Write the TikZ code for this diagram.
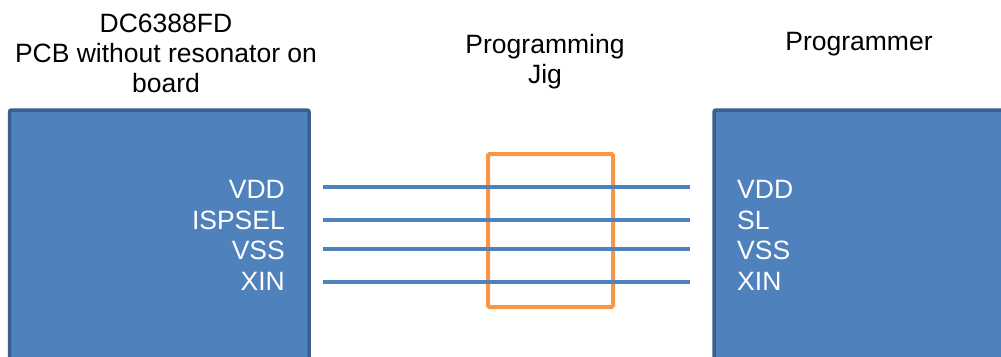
\documentclass[tikz,border=0pt]{standalone}
\usepackage{fontspec}
\setmainfont{Liberation Sans}
\definecolor{boxfill}{HTML}{4F81BD}
\definecolor{boxline}{HTML}{3A5F8E}
\definecolor{jigorange}{HTML}{F79646}
\tikzset{
  board/.style={draw=boxline, fill=boxfill, line width=3.5pt, rounded corners=2pt},
  wire/.style={draw=boxfill, line width=3.5pt},
  jigbox/.style={draw=jigorange, line width=4pt, rounded corners=1.5pt},
  pin/.style={text=white, font=\fontsize{26.5}{30}\selectfont, inner sep=0pt},
  title/.style={align=center, font=\fontsize{26.5}{30}\selectfont, inner sep=0pt}
}
\begin{document}
\begin{tikzpicture}[x=1pt,y=-1pt]
\useasboundingbox (0,0) rectangle (1001,356);
\path[board] (9.5,110) rectangle (309,370);
\path[board] (714,110) rectangle (1015,370);
\path[jigbox] (488,154) rectangle (613,307);
% left pins
\node[pin, anchor=base east] (lvdd) at (285,198) {VDD};
\node[pin, anchor=base east] (lisp) at (285,229) {ISPSEL};
\node[pin, anchor=base east] (lvss) at (285,259) {VSS};
\node[pin, anchor=base east] (lxin) at (285,290) {XIN};
% right pins
\node[pin, anchor=base west] (rvdd) at (737,198) {VDD};
\node[pin, anchor=base west] (rsl) at (737,229) {SL};
\node[pin, anchor=base west] (rvss) at (737,259) {VSS};
\node[pin, anchor=base west] (rxin) at (737,290) {XIN};
% wire endpoints
\coordinate (a1) at (323,187); \coordinate (b1) at (690,187);
\coordinate (a2) at (323,220); \coordinate (b2) at (690,220);
\coordinate (a3) at (323,249); \coordinate (b3) at (690,249);
\coordinate (a4) at (323,282); \coordinate (b4) at (690,282);
\draw[wire] (a1) -- (b1);
\draw[wire] (a2) -- (b2);
\draw[wire] (a3) -- (b3);
\draw[wire] (a4) -- (b4);
% titles
\node[title, anchor=base] (t1) at (166,92) {DC6388FD\\PCB without resonator on\\board};
\node[title, anchor=base] (t2) at (545,83.5) {Programming\\Jig};
\node[title, anchor=base] (t3) at (859,50.5) {Programmer};
\end{tikzpicture}
\end{document}
